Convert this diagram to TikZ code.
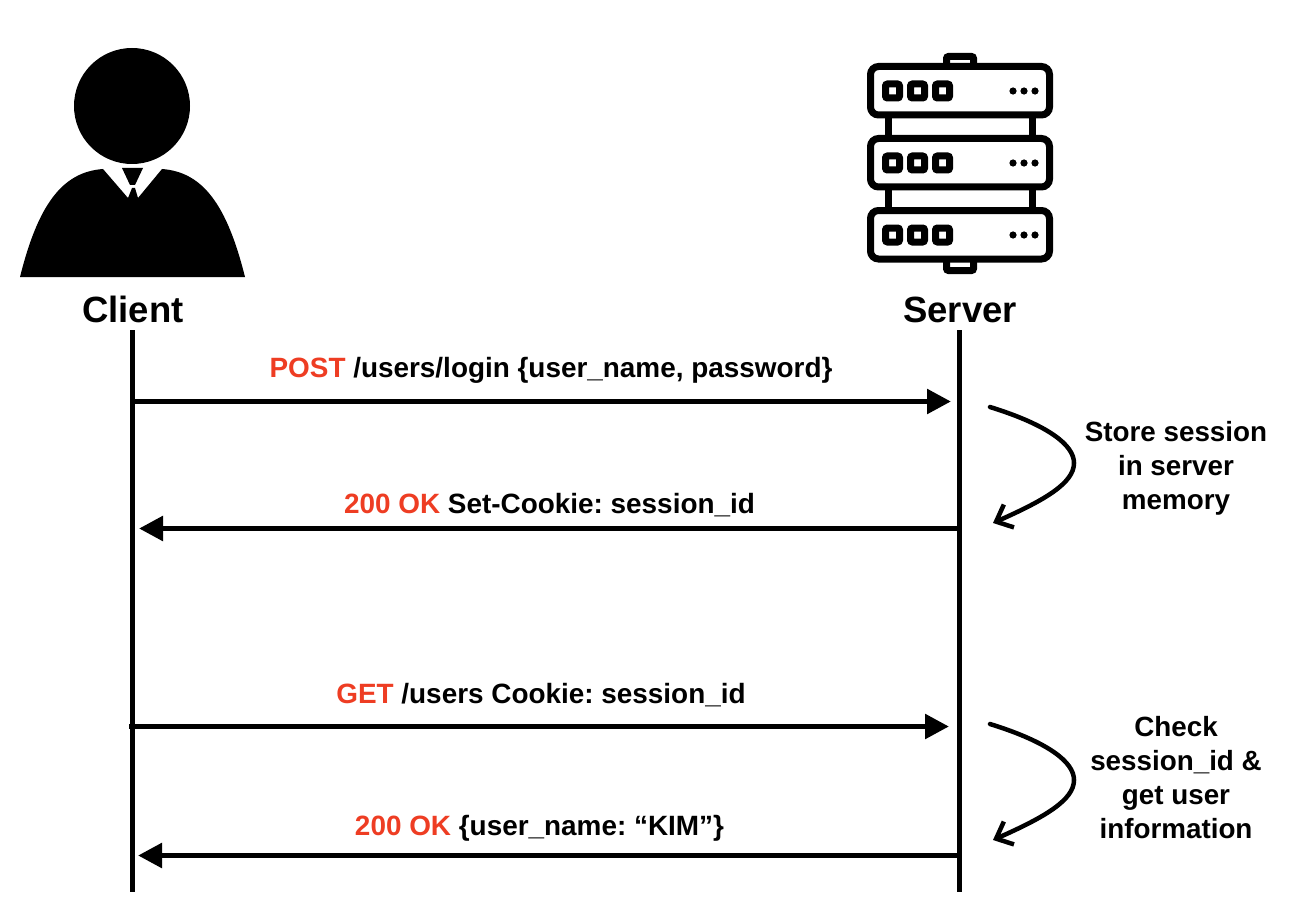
\documentclass[tikz,border=0pt]{standalone}
\usepackage{fontspec}
\usepackage{xcolor}
\setmainfont{Liberation Sans}
\usetikzlibrary{arrows.meta}
\definecolor{verbRed}{HTML}{EE3D23}
\tikzset{
    lifeline/.style={line width=5.5pt},
    message/.style={line width=5.5pt, -{Triangle[length=24pt,width=24pt]}},
    memo/.style={line width=4.5pt, line cap=round, -{Straight Barb[length=14pt,width=25pt]}},
    actor/.style={font=\fontsize{36.5}{40}\selectfont\bfseries, anchor=base, inner sep=0pt},
    msglabel/.style={font=\frenchspacing\fontsize{27.9}{32}\selectfont\bfseries, anchor=base, inner sep=0pt},
    note/.style={font=\frenchspacing\fontsize{27.8}{34}\selectfont\bfseries, align=center, inner sep=0pt},
    rack/.style={draw, line width=7pt, rounded corners=8pt},
    lamp/.style={draw, line width=7pt, rounded corners=2pt}
}
\begin{document}
\begin{tikzpicture}[x=1pt, y=-1pt]
    \useasboundingbox (0,0) rectangle (1316,912);

    % Client figure
    \fill (132,106) circle (58);
    \fill (20,277) .. controls (38,205) and (62,172) .. (103,169) -- (128,198) -- (132,188) -- (135,188) -- (138,198) -- (162,169) .. controls (203,172) and (227,205) .. (245,277) -- cycle;
    \fill (122,168) -- (143,168) -- (135,185) -- (130,185) -- cycle;

    % Server rack
    \draw[rack, rounded corners=2pt] (946.5,64) -- (946.5,56.5) -- (973.5,56.5) -- (973.5,64);
    \draw[rack, rounded corners=2pt] (946.5,262) -- (946.5,270.5) -- (973.5,270.5) -- (973.5,262);
    \draw[line width=7pt] (888,116) -- (888,137) (1032,116) -- (1032,137);
    \draw[line width=7pt] (888,188) -- (888,209) (1032,188) -- (1032,209);
    \foreach \boxtop/\midy in {66.5/91, 138.5/163, 210.5/235} {
        \draw[rack] (870.5,\boxtop) rectangle ++(179,48.5);
        \foreach \lampx in {885.5, 910.5, 935.5}
            \draw[lamp] (\lampx,\midy-7) rectangle ++(14,14);
        \foreach \dotx in {1013, 1024, 1035}
            \fill (\dotx,\midy) circle (3.6);
    }

    % Actors
    \node[actor] (client) at (133,322) {Client};
    \node[actor] (server) at (960,322) {Server};

    % Lifelines
    \coordinate (clientTop) at (132.5,330);
    \coordinate (clientEnd) at (132.5,892);
    \coordinate (serverTop) at (959.5,330);
    \coordinate (serverEnd) at (959.5,892);
    \draw[lifeline] (clientTop) -- (clientEnd);
    \draw[lifeline] (serverTop) -- (serverEnd);

    % Messages
    \coordinate (loginFrom) at (132,401.5);
    \coordinate (loginTo) at (951,401.5);
    \coordinate (cookieFrom) at (959,528.5);
    \coordinate (cookieTo) at (139,528.5);
    \coordinate (usersFrom) at (129,726.5);
    \coordinate (usersTo) at (949,726.5);
    \coordinate (userFrom) at (959,855.5);
    \coordinate (userTo) at (138,855.5);
    \draw[message] (loginFrom) -- (loginTo);
    \draw[message] (cookieFrom) -- (cookieTo);
    \draw[message] (usersFrom) -- (usersTo);
    \draw[message] (userFrom) -- (userTo);

    \node[msglabel] (loginText) at (551,377) {\textcolor{verbRed}{POST} /users/login \{user\_name, password\}};
    \node[msglabel] (cookieText) at (549.5,513) {\textcolor{verbRed}{200 OK} Set-Cookie: session\_id};
    \node[msglabel] (usersText) at (541,703) {\textcolor{verbRed}{GET} /users Cookie: session\_id};
    \node[msglabel] (userText) at (539.5,835) {\textcolor{verbRed}{200 OK} \{user\_name: “KIM”\}};

    % Server side notes
    \coordinate (storeFrom) at (990,407);
    \coordinate (storeTo) at (993,523);
    \coordinate (checkFrom) at (990,724);
    \coordinate (checkTo) at (993,840);
    \draw[memo] (storeFrom) .. controls (1048,425) and (1074,445) .. (1074,463) .. controls (1074,483) and (1045,500) .. (storeTo);
    \draw[memo] (checkFrom) .. controls (1048,742) and (1074,762) .. (1074,780) .. controls (1074,800) and (1045,817) .. (checkTo);

    \node[note] (storeText) at (1176,468) {Store session\\in server\\memory};
    \node[note] (checkText) at (1176,778) {Check\\session\_id \&\\get user\\information};
\end{tikzpicture}
\end{document}
